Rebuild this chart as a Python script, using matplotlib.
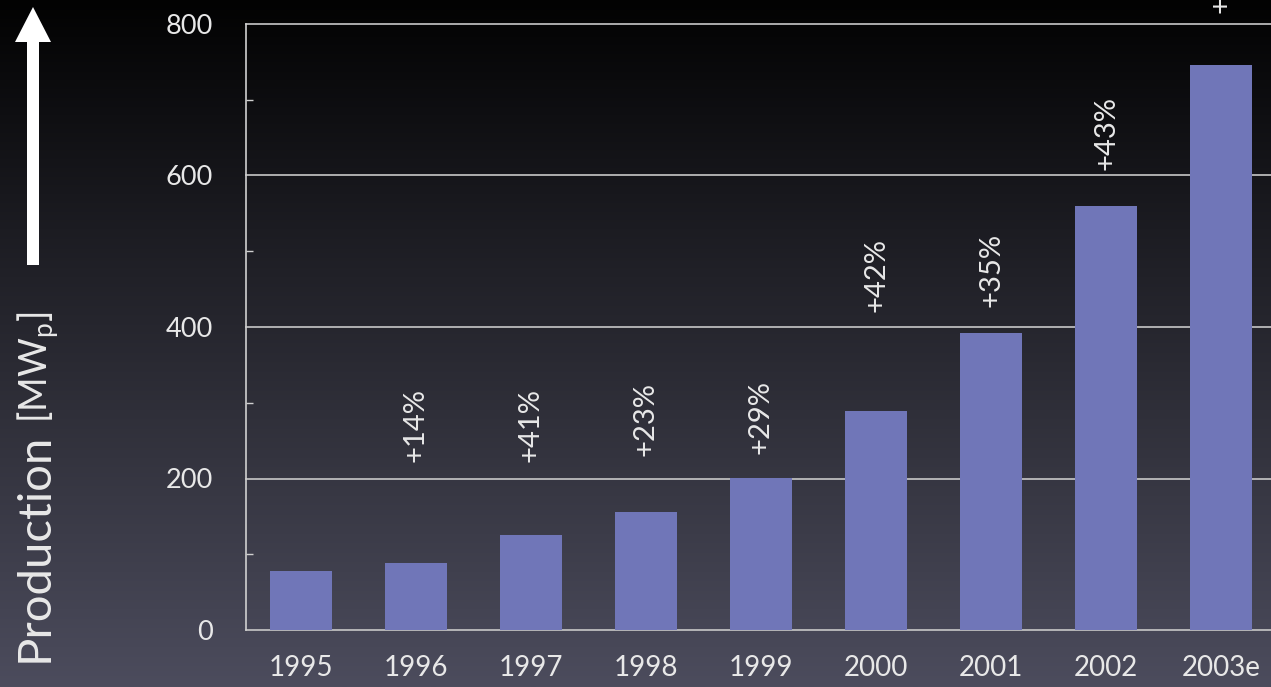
import numpy as np
import matplotlib
matplotlib.use('Agg')
import matplotlib.pyplot as plt
from matplotlib.colors import LinearSegmentedColormap
from matplotlib.patches import FancyArrow

# ---- data ----
years = ['1995', '1996', '1997', '1998', '1999', '2000', '2001', '2002', '2003e']
production = [78, 88, 125, 156, 201, 289, 392, 560, 746]
growth_labels = ['', '+14%', '+41%', '+23%', '+29%', '+42%', '+35%', '+43%', '+33%']
label_heights = [0, 222, 222, 230, 233, 420, 427, 607, 815]
y_major = [0, 200, 400, 600, 800]
y_minor = [100, 300, 500, 700]

plt.rcParams['font.family'] = ['Lato', 'DejaVu Sans']
plt.rcParams['mathtext.fontset'] = 'custom'
plt.rcParams['mathtext.rm'] = 'Lato'

W, H = 1271, 687
fig = plt.figure(figsize=(W / 100, H / 100), dpi=100)

# background gradient
bg = fig.add_axes([0, 0, 1, 1], zorder=-10)
grad = np.linspace(0, 1, 256).reshape(-1, 1)
cmap = LinearSegmentedColormap.from_list('bg', ['#020202', '#1c1c22', '#34343f', '#4c4c5d'])
bg.imshow(grad, aspect='auto', cmap=cmap, extent=[0, 1, 0, 1], origin='upper')
bg.set_axis_off()

txt = '#e8e8e8'
ax = fig.add_axes([246 / W, 1 - 630 / H, 1030 / W, 606 / H])
ax.set_facecolor('none')
x = np.arange(len(years))
ax.bar(x, production, width=0.54, color='#7076b8', zorder=3)
ax.set_xlim(-0.478, len(years) - 1 + 0.478)
ax.set_ylim(0, 800)

for v in y_major:
    ax.axhline(v, color='#c8c8c8', lw=1.2, zorder=1, clip_on=False)

for s in ['top', 'right', 'bottom']:
    ax.spines[s].set_visible(False)
ax.spines['left'].set_color('#d0d0d0')
ax.spines['left'].set_linewidth(1.2)
ax.spines['left'].set_zorder(2)

ax.set_yticks(y_major)
ax.set_yticks(y_minor, minor=True)
ax.set_yticklabels([str(v) for v in y_major])
ax.tick_params(axis='y', which='major', length=0, pad=24, labelsize=19.5, labelcolor=txt)
ax.tick_params(axis='y', which='minor', direction='in', length=5, width=1, color='#d0d0d0')
ax.set_xticks(x)
ax.set_xticklabels(years)
ax.tick_params(axis='x', length=0, pad=18, labelsize=20, labelcolor=txt)

for i, (lab, hy) in enumerate(zip(growth_labels, label_heights)):
    if lab:
        ax.text(i, hy, lab, rotation=90, ha='center', va='bottom',
                fontsize=21, color=txt, zorder=4)

# y-axis label
t1 = fig.text(35 / W, 1 - 662 / H, 'Production', rotation=90, ha='center', va='bottom',
              fontsize=34, color=txt)
fig.canvas.draw()
bb = t1.get_window_extent()
fig.text(38 / W, (bb.y1 + 10) / H, r'[MW$_{\mathrm{p}}$]', rotation=90, ha='center',
         va='bottom', fontsize=27, color=txt)

# arrow
ov = fig.add_axes([0, 0, 1, 1], zorder=5)
ov.set_xlim(0, W)
ov.set_ylim(H, 0)
ov.set_axis_off()
ov.add_patch(FancyArrow(33, 265, 0, -258, width=12, head_width=36, head_length=35,
                        length_includes_head=True, color='white', lw=0))

fig.savefig('out.png', dpi=100)
